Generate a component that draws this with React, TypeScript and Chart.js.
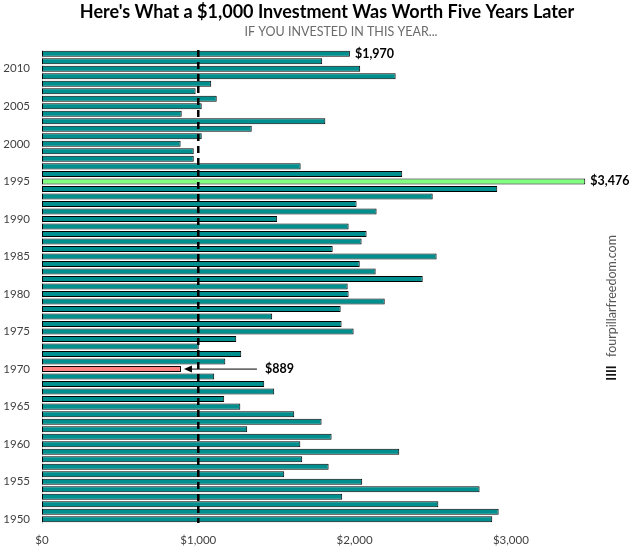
import React, { useEffect, useRef } from 'react';
import { Chart, registerables } from 'chart.js';

Chart.register(...registerables);

const YEARS: number[] = [
  1950, 1951, 1952, 1953, 1954, 1955, 1956, 1957, 1958, 1959,
  1960, 1961, 1962, 1963, 1964, 1965, 1966, 1967, 1968, 1969,
  1970, 1971, 1972, 1973, 1974, 1975, 1976, 1977, 1978, 1979,
  1980, 1981, 1982, 1983, 1984, 1985, 1986, 1987, 1988, 1989,
  1990, 1991, 1992, 1993, 1994, 1995, 1996, 1997, 1998, 1999,
  2000, 2001, 2002, 2003, 2004, 2005, 2006, 2007, 2008, 2009,
  2010, 2011, 2012,
];

const VALUES: number[] = [
  2881, 2922, 2536, 1921, 2800, 2049, 1550, 1834, 1665, 2286,
  1653, 1853, 1313, 1789, 1614, 1269, 1166, 1486, 1422, 1102,
  889, 1173, 1275, 1003, 1243, 1994, 1917, 1473, 1911, 2193,
  1962, 1956, 2436, 2135, 2033, 2525, 1860, 2045, 2077, 1962,
  1505, 2141, 2013, 2500, 2913, 3476, 2305, 1655, 971, 971,
  887, 1022, 1342, 1813, 894, 1022, 1118, 983, 1083, 2263,
  2036, 1793, 1970,
];

const X_TICKS: number[] = [0, 1000, 2000, 3000];
const X_MAX = 3500;
const REFERENCE_VALUE = 1000;
const BEST_YEAR = 1995;
const WORST_YEAR = 1970;
const LATEST_YEAR = 2012;

const TITLE = "Here's What a $1,000 Investment Was Worth Five Years Later";
const SUBTITLE = 'IF YOU INVESTED IN THIS YEAR...';
const WATERMARK = 'fourpillarfreedom.com';

const TEAL = '#008f8f';
const GREEN = '#80ff80';
const SALMON = '#ff8080';
const FONT = 'Lato, "Open Sans", sans-serif';

const fmt = (v: number) => '$' + v.toLocaleString('en-US');

export default function App() {
  const ref = useRef<HTMLCanvasElement | null>(null);

  useEffect(() => {
    if (!ref.current) return;
    const colors = YEARS.map((y) =>
      y === BEST_YEAR ? GREEN : y === WORST_YEAR ? SALMON : TEAL
    );

    const overlay = {
      id: 'overlay',
      afterDatasetsDraw(chart: any) {
        const { ctx, scales, chartArea } = chart;
        const xs = scales.x;
        const ys = scales.y;
        ctx.save();
        // reference dashed line
        const rx = xs.getPixelForValue(REFERENCE_VALUE);
        ctx.strokeStyle = '#000';
        ctx.lineWidth = 2.5;
        ctx.setLineDash([7, 5]);
        ctx.beginPath();
        ctx.moveTo(rx, chartArea.top);
        ctx.lineTo(rx, chartArea.bottom);
        ctx.stroke();
        ctx.setLineDash([]);

        ctx.fillStyle = '#000';
        ctx.font = `bold 12.5px ${FONT}`;
        ctx.textBaseline = 'middle';
        ctx.textAlign = 'left';
        // latest
        const li = YEARS.indexOf(LATEST_YEAR);
        ctx.fillText(fmt(VALUES[li]), xs.getPixelForValue(VALUES[li]) + 5, ys.getPixelForValue(li));
        // best
        const bi = YEARS.indexOf(BEST_YEAR);
        ctx.fillText(fmt(VALUES[bi]), xs.getPixelForValue(VALUES[bi]) + 5, ys.getPixelForValue(bi));
        // worst with arrow
        const wi = YEARS.indexOf(WORST_YEAR);
        const wy = ys.getPixelForValue(wi);
        const tip = xs.getPixelForValue(VALUES[wi]) + 3;
        const tail = tip + 73;
        ctx.strokeStyle = '#000';
        ctx.lineWidth = 1;
        ctx.beginPath();
        ctx.moveTo(tip + 6, wy);
        ctx.lineTo(tail, wy);
        ctx.stroke();
        ctx.beginPath();
        ctx.moveTo(tip, wy);
        ctx.lineTo(tip + 8, wy - 3.5);
        ctx.lineTo(tip + 8, wy + 3.5);
        ctx.closePath();
        ctx.fill();
        ctx.fillText(fmt(VALUES[wi]), tail + 8, wy);
        ctx.restore();
      },
      afterDraw(chart: any) {
        const { ctx } = chart;
        ctx.save();
        ctx.textAlign = 'center';
        ctx.textBaseline = 'middle';
        ctx.fillStyle = '#000';
        ctx.font = `bold 18px ${FONT}`;
        ctx.fillText(TITLE, 327, 12);
        ctx.fillStyle = '#6b6b6b';
        ctx.font = `12.5px ${FONT}`;
        ctx.fillText(SUBTITLE, 341, 32);
        // watermark
        ctx.translate(612, 296);
        ctx.rotate(-Math.PI / 2);
        ctx.fillStyle = '#555';
        ctx.font = `12.5px ${FONT}`;
        ctx.fillText(WATERMARK, 0, 0);
        ctx.fillStyle = '#111';
        ctx.font = `bold 13px ${FONT}`;
        ctx.fillText('IIII', -77, 0);
        ctx.restore();
      },
    };

    const chart = new Chart(ref.current, {
      type: 'bar',
      data: {
        labels: YEARS.map(String),
        datasets: [
          {
            data: VALUES,
            backgroundColor: colors,
            borderColor: '#000',
            borderWidth: 1,
            borderSkipped: false,
            barPercentage: 0.8,
            categoryPercentage: 1,
          },
        ],
      },
      options: {
        indexAxis: 'y',
        responsive: false,
        devicePixelRatio: 1,
        animation: false,
        layout: { padding: { top: 50, right: 42, left: 0, bottom: 0 } },
        plugins: { legend: { display: false }, tooltip: { enabled: false } },
        scales: {
          x: {
            min: 0,
            max: X_MAX,
            afterBuildTicks: (s: any) => {
              s.ticks = X_TICKS.map((v) => ({ value: v }));
            },
            afterFit: (s: any) => {
              s.height = 26;
            },
            grid: { display: false, drawTicks: false },
            border: { display: false },
            ticks: {
              padding: 10,
              color: '#404040',
              font: { family: FONT, size: 11.5 },
              callback: (v: any) => fmt(Number(v)),
            },
          },
          y: {
            reverse: true,
            afterFit: (s: any) => {
              s.width = 42;
            },
            grid: { display: false, drawTicks: false },
            border: { display: true, color: '#d9d9d9', width: 1 },
            ticks: {
              autoSkip: false,
              padding: 12,
              color: '#404040',
              font: { family: FONT, size: 11.5 },
              callback: (_v: any, i: number) => (YEARS[i] % 5 === 0 ? String(YEARS[i]) : ''),
            },
          },
        },
      },
      plugins: [overlay],
    } as any);
    return () => chart.destroy();
  }, []);

  return (
    <div style={{ position: 'absolute', left: 0, top: 0, width: 631, height: 549, background: '#fff' }}>
      <canvas ref={ref} width={631} height={549} style={{ display: 'block' }} />
    </div>
  );
}
